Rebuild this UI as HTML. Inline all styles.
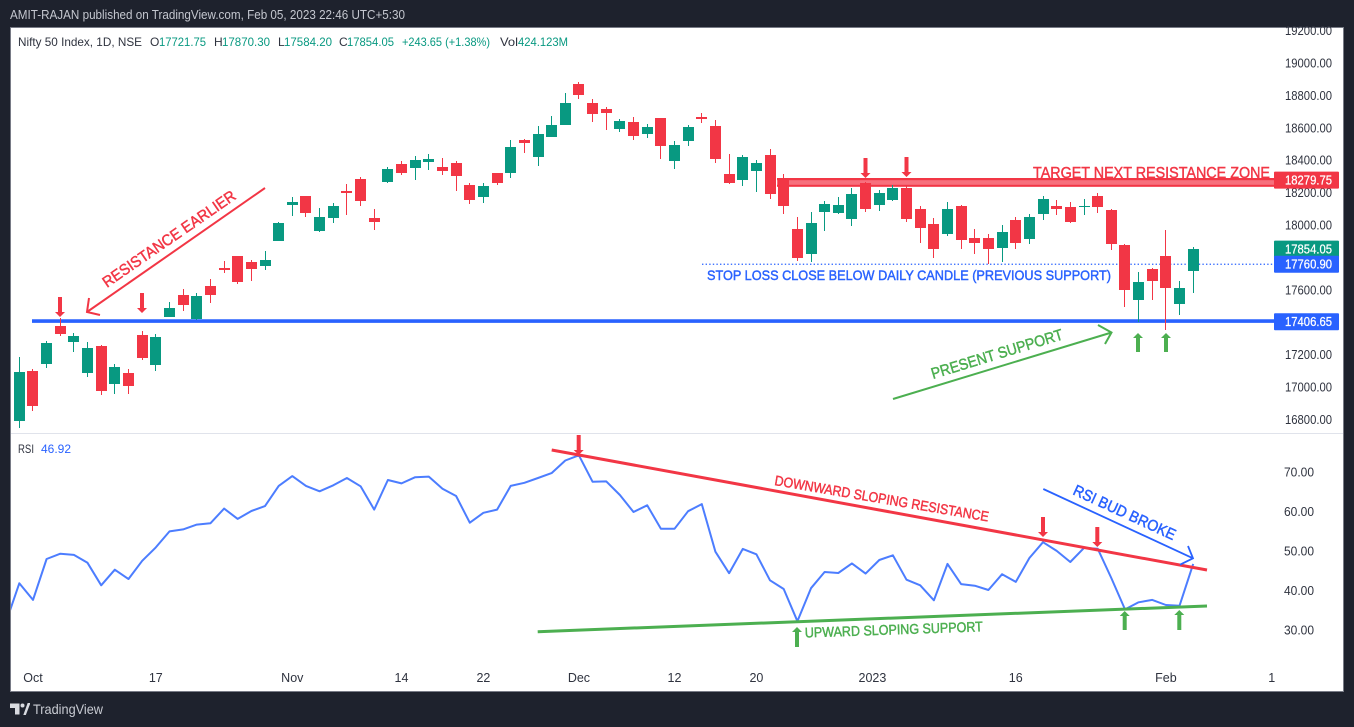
<!DOCTYPE html>
<html lang="en">
<head>
<meta charset="utf-8">
<title>Nifty 50 Index chart</title>
<style>
html,body{margin:0;padding:0;background:#1e222d;width:1354px;height:727px;overflow:hidden}
svg{display:block;font-family:"Liberation Sans",sans-serif}
text{white-space:pre}
.axis{font-size:12.5px;fill:#2f333f}
.note{font-size:15.5px;stroke-width:.45}
</style>
</head>
<body>
<svg id="root" width="1354" height="727" viewBox="0 0 1354 727">
  <defs><clipPath id="plot-clip"><rect x="11" y="28" width="1332" height="405"/></clipPath>
  <clipPath id="rsi-clip"><rect x="11" y="434" width="1332" height="230"/></clipPath></defs>
  <text x="10" y="19" font-size="12.5" fill="#c4c7cf" textLength="395" lengthAdjust="spacingAndGlyphs">AMIT-RAJAN published on TradingView.com, Feb 05, 2023 22:46 UTC+5:30</text>
  <rect x="10.5" y="27.5" width="1333" height="664" fill="#ffffff" stroke="#787b86" stroke-width="1"/>
  <line x1="11" x2="1343" y1="433.5" y2="433.5" stroke="#e0e3eb" stroke-width="1"/>

  <g id="price-axis"></g>
  <g id="rsi-axis"></g>
  <g id="time-axis"></g>

  <g>
    <rect id="zone-rect" x="777" y="178" width="497" height="9" fill="#f7707d"/>
    <rect x="777" y="178" width="497" height="2.2" fill="#f23645"/>
    <rect x="777" y="184.8" width="497" height="1.6" fill="#f23645"/>
  </g>
  <line id="support-line" x1="32" x2="1274" stroke="#2962ff" stroke-width="3.6"/>
  <line id="stoploss-line" x1="702" x2="1274" stroke="#2962ff" stroke-width="1.3" stroke-dasharray="1.4 2.2"/>

  <g id="candles" clip-path="url(#plot-clip)"></g>

  <g>
    <path d="M265 188L87 312M89 298L87 312L100 315" fill="none" stroke="#f23645" stroke-width="2"/>
    <text class="note" transform="translate(107,288) rotate(-34.6)" fill="#f23645" stroke="#f23645" textLength="158" lengthAdjust="spacingAndGlyphs">RESISTANCE EARLIER</text>
    <path d="M893 399L1111.5 332.5M1098 325L1111.5 332.5L1105 344" fill="none" stroke="#4caf50" stroke-width="2"/>
    <text class="note" transform="translate(933,379) rotate(-17)" fill="#4caf50" stroke="#4caf50" textLength="137" lengthAdjust="spacingAndGlyphs">PRESENT SUPPORT</text>
    <text class="note" x="1033" y="178" style="font-size:16px" fill="#f23645" stroke="#f23645" textLength="237" lengthAdjust="spacingAndGlyphs">TARGET NEXT RESISTANCE ZONE</text>
    <text class="note" x="707" y="280" style="font-size:14px" fill="#2962ff" stroke="#2962ff" textLength="404" lengthAdjust="spacingAndGlyphs">STOP LOSS CLOSE BELOW DAILY CANDLE (PREVIOUS SUPPORT)</text>
    <path d="M58 297h4v15h3l-5 5l-5-5h3z" fill="#f23645"/>
    <path d="M140 293h4v15h3l-5 5l-5-5h3z" fill="#f23645"/>
    <path d="M863.5 158h4v15h3l-5 5l-5-5h3z" fill="#f23645"/>
    <path d="M904.5 157h4v15h3l-5 5l-5-5h3z" fill="#f23645"/>
    <path d="M1136 352h4v-14h3l-5-5l-5 5h3z" fill="#4caf50"/>
    <path d="M1164 352h4v-14h3l-5-5l-5 5h3z" fill="#4caf50"/>
  </g>

  <path id="rsi-line" clip-path="url(#rsi-clip)" fill="none" stroke="#4c7dff" stroke-width="2" stroke-linejoin="round"/>

  <g>
    <line x1="551.7" y1="450" x2="1207" y2="570" stroke="#f23645" stroke-width="3"/>
    <line x1="537.7" y1="631.7" x2="1207" y2="606" stroke="#4caf50" stroke-width="3"/>
    <text class="note" transform="translate(774,485) rotate(9.7)" style="font-size:14px" fill="#f23645" stroke="#f23645" textLength="217" lengthAdjust="spacingAndGlyphs">DOWNWARD SLOPING RESISTANCE</text>
    <text class="note" transform="translate(805,637.5) rotate(-2)" style="font-size:14px" fill="#4caf50" stroke="#4caf50" textLength="178" lengthAdjust="spacingAndGlyphs">UPWARD SLOPING SUPPORT</text>
    <path d="M1043.3 489L1193 558.3M1188 546L1193 558.3L1180 564.7" fill="none" stroke="#2962ff" stroke-width="1.8"/>
    <text class="note" transform="translate(1072,494) rotate(24.7)" fill="#2962ff" stroke="#2962ff" textLength="111" lengthAdjust="spacingAndGlyphs">RSI BUD BROKE</text>
    <path d="M576.7 435h4v15h3l-5 5l-5-5h3z" fill="#f23645"/>
    <path d="M1041 517h4v15h3l-5 5l-5-5h3z" fill="#f23645"/>
    <path d="M1095.3 527h4v15h3l-5 5l-5-5h3z" fill="#f23645"/>
    <path d="M795 647h4v-15h3l-5-5l-5 5h3z" fill="#4caf50"/>
    <path d="M1122.7 630h4v-14h3l-5-5l-5 5h3z" fill="#4caf50"/>
    <path d="M1177.3 630h4v-15h3l-5-5l-5 5h3z" fill="#4caf50"/>
  </g>

  <g id="price-tags"></g>

  <g font-size="12" fill="#2f333f">
    <text x="18" y="46" textLength="124" lengthAdjust="spacingAndGlyphs">Nifty 50 Index, 1D, NSE</text>
    <text x="150" y="46">O</text>
    <text x="159" y="46" fill="#089981" textLength="47" lengthAdjust="spacingAndGlyphs">17721.75</text>
    <text x="214" y="46">H</text>
    <text x="222" y="46" fill="#089981" textLength="48" lengthAdjust="spacingAndGlyphs">17870.30</text>
    <text x="278" y="46">L</text>
    <text x="284" y="46" fill="#089981" textLength="48" lengthAdjust="spacingAndGlyphs">17584.20</text>
    <text x="339" y="46">C</text>
    <text x="347" y="46" fill="#089981" textLength="47" lengthAdjust="spacingAndGlyphs">17854.05</text>
    <text x="402" y="46" fill="#089981" textLength="88" lengthAdjust="spacingAndGlyphs">+243.65 (+1.38%)</text>
    <text x="500" y="46" textLength="18" lengthAdjust="spacingAndGlyphs">Vol</text>
    <text x="518" y="46" fill="#089981" textLength="50" lengthAdjust="spacingAndGlyphs">424.123M</text>
  </g>
  <g font-size="12">
    <text x="18" y="453" fill="#2f333f" textLength="16" lengthAdjust="spacingAndGlyphs">RSI</text>
    <text x="41" y="453" fill="#2962ff" textLength="30" lengthAdjust="spacingAndGlyphs">46.92</text>
  </g>

  <g>
    <path d="M10 703.5h9.5v11h-4.5v-6.5h-5z" fill="#d8dae0"/>
    <circle cx="22.5" cy="705.5" r="2" fill="#d8dae0"/>
    <path d="M24 714.5L28 703.5H29.5V704L25.5 714.5z" fill="#d8dae0" stroke="#d8dae0" stroke-width="1"/>
    <text x="33" y="714" font-size="14" fill="#c9ccd3" textLength="70" lengthAdjust="spacingAndGlyphs">TradingView</text>
  </g>
</svg>
<script>
// Daily candle data, first entry is the partially visible bar left of the frame
const opens = [16998,
16796,17102,17146,17380,17281,17090,17257,17022,17090,17325,
17139,17436,17571,17421,17627,17738,17812,17775,17750,17904,
18127,18182,17966,18046,18213,18287,18046,18268,18379,18355,
18392,18361,18386,18250,18176,18324,18324,18528,18423,18546,
18620,18873,18756,18719,18595,18639,18565,18663,18398,18521,
18669,18614,18318,18281,18336,18435,18293,17979,17824,18083,
18077,18040,18262,18127,18157,18231,18102,18009,17948,18120,
17923,17923,17861,18034,17917,18071,18120,18114,18114,18182,
18096,17880,17541,17732,17812,17516,17721.75];
const highs = [17010,
17189,17113,17288,17427,17337,17281,17263,17146,17115,17349,
17331,17528,17608,17584,17670,17781,17812,17787,17843,18022,
18176,18182,18108,18139,18256,18299,18102,18361,18398,18429,
18441,18416,18398,18262,18262,18324,18528,18534,18614,18676,
18817,18885,18780,18731,18657,18669,18626,18663,18521,18620,
18694,18651,18441,18435,18404,18472,18318,18053,18083,18151,
18176,18231,18268,18219,18250,18244,18120,18046,18145,18127,
17979,17948,18003,18053,18071,18182,18157,18145,18164,18201,
18102,17886,17713,17738,17972,17658,17870.30];
const lows = [16790,
16753,16856,17121,17318,17220,17065,16955,16961,16961,17170,
17102,17436,17473,17420,17522,17707,17639,17658,17726,17904,
18059,18053,17960,18016,18065,18120,17972,18262,18312,18281,
18342,18312,18213,18133,18139,18250,18293,18447,18367,18546,
18620,18780,18639,18589,18577,18528,18540,18410,18349,18491,
18632,18386,18256,18244,18207,18164,18071,17781,17775,17966,
18071,17997,18083,18090,18151,18022,17892,17800,17935,17855,
17824,17763,17775,17855,17886,18034,18065,18016,18065,18077,
17849,17497,17405,17541,17355,17448,17584.20];
const closes = [16813,
17096,16888,17275,17331,17318,17244,16979,17127,17010,17183,
17312,17491,17510,17565,17571,17726,17652,17732,17787,18016,
18145,18077,18053,18120,18201,18151,18022,18349,18324,18404,
18410,18336,18305,18157,18244,18262,18484,18509,18565,18620,
18756,18805,18688,18694,18645,18552,18608,18491,18497,18608,
18657,18410,18262,18423,18386,18194,18120,17800,18016,18133,
18127,18194,18102,18201,18231,18040,17985,17855,18102,17911,
17892,17855,17960,17892,18053,18164,18102,18022,18120,18114,
17886,17602,17652,17658,17615,17615,17854.05];
const rsiValues = [31.95,
42.0,37.8,48.15,49.5,49.2,47.2,41.5,45.45,43.1,47.7,
51.1,55.15,55.65,56.85,57.2,60.9,58.3,60.3,61.55,66.65,
69.15,66.65,65.3,66.8,68.65,66.55,60.65,68.15,67.3,68.85,
69.0,65.95,64.1,57.35,59.85,60.65,66.65,67.45,68.65,69.9,
73.1,74.4,67.7,67.8,64.35,60.05,61.75,55.8,55.8,60.25,
62.05,50.0,44.55,50.7,49.35,42.75,40.55,32.4,40.75,44.85,
44.6,47.05,44.45,47.9,49.1,42.9,41.5,37.7,46.9,41.8,
41.4,40.3,44.3,42.35,48.4,52.4,50.2,47.4,50.95,50.75,
43.35,35.4,37.2,37.8,36.5,36.3,46.92];
const priceTicks = [19200,19000,18800,18600,18400,18200,18000,17800,17600,17400,17200,17000,16800];
const rsiTicks = [70,60,50,40,30];
const timeLabels = ["Oct","17","Nov","14","22","Dec","12","20","2023","16","Feb","1"];
const timeLabelBars = [1,10,20,28,34,41,48,54,62.5,73,84,91.75];
const supportLevel = 17406.65;
const stopLossLevel = 17760.90;
const zoneLevel = 18279.75;
const lastClose = 17854.05;

const NS = 'http://www.w3.org/2000/svg';
function xBar(i){ return 19.3 + 13.65 * i; }
function yPrice(p){ return 31 + (19200 - p) * 0.1621; }
function yRsi(v){ return 472.7 + (70 - v) * 3.95; }
function mk(tag, parent){ const el = document.createElementNS(NS, tag); parent.appendChild(el); return el; }

const candleGroup = document.getElementById('candles');
opens.forEach(function(o, k){
  const i = k - 1;
  const xc = Math.floor(xBar(i)) + 0.5;
  const up = closes[k] >= o;
  const color = up ? '#089981' : '#f23645';
  const top = Math.round(yPrice(Math.max(o, closes[k])));
  const bottom = Math.round(yPrice(Math.min(o, closes[k])));
  const g = mk('g', candleGroup);
  
  
  const wick = mk('rect', g);
  
  
  wick.setAttribute('x', xc - 0.5);
  wick.setAttribute('width', 1);
  wick.setAttribute('y', Math.round(yPrice(highs[k])));
  wick.setAttribute('height', Math.max(1, Math.round(yPrice(lows[k])) - Math.round(yPrice(highs[k]))));
  wick.setAttribute('fill', color);
  const body = mk('rect', g);
  
  
  body.setAttribute('x', xc - 5.5);
  body.setAttribute('width', 11);
  body.setAttribute('y', top);
  body.setAttribute('height', Math.max(1, bottom - top));
  body.setAttribute('fill', color);
});

document.getElementById('rsi-line').setAttribute('d', rsiValues.map(function(v, k){
  return (k ? 'L' : 'M') + xBar(k - 1).toFixed(1) + ' ' + yRsi(v).toFixed(1);
}).join(''));

const priceAxis = document.getElementById('price-axis');
priceTicks.forEach(function(p){
  const t = mk('text', priceAxis);
  
  
  t.setAttribute('class', 'axis');
  t.setAttribute('x', 1285);
  t.setAttribute('y', yPrice(p) + 4);
  t.setAttribute('textLength', 47);
  t.setAttribute('lengthAdjust', 'spacingAndGlyphs');
  t.textContent = p.toFixed(2);
});
const rsiAxis = document.getElementById('rsi-axis');
rsiTicks.forEach(function(v){
  const t = mk('text', rsiAxis);
  
  
  t.setAttribute('class', 'axis');
  t.setAttribute('x', 1284);
  t.setAttribute('y', yRsi(v) + 4);
  t.setAttribute('textLength', 30);
  t.setAttribute('lengthAdjust', 'spacingAndGlyphs');
  t.textContent = v.toFixed(2);
});
const timeAxis = document.getElementById('time-axis');
timeLabels.forEach(function(label, k){
  const t = mk('text', timeAxis);
  
  
  t.setAttribute('class', 'axis');
  t.setAttribute('x', xBar(timeLabelBars[k]));
  t.setAttribute('y', 682);
  t.setAttribute('text-anchor', 'middle');
  t.textContent = label;
});

document.getElementById('support-line').setAttribute('y1', yPrice(supportLevel) - 0.6);
document.getElementById('support-line').setAttribute('y2', yPrice(supportLevel) - 0.6);
document.getElementById('stoploss-line').setAttribute('y1', yPrice(stopLossLevel));
document.getElementById('stoploss-line').setAttribute('y2', yPrice(stopLossLevel));

const tagGroup = document.getElementById('price-tags');
[[zoneLevel, '#f23645'], [lastClose, '#089981'], [stopLossLevel, '#2962ff'], [supportLevel, '#2962ff']].forEach(function(tag){
  const cy = yPrice(tag[0]);
  const r = mk('rect', tagGroup);
  
  
  r.setAttribute('x', 1274);
  r.setAttribute('y', cy - 8.5);
  r.setAttribute('width', 65);
  r.setAttribute('height', 17);
  r.setAttribute('rx', 1);
  r.setAttribute('fill', tag[1]);
  const t = mk('text', tagGroup);
  
  
  t.setAttribute('x', 1285);
  t.setAttribute('y', cy + 4.3);
  t.setAttribute('font-size', 12.5);
  t.setAttribute('fill', '#ffffff');
  t.setAttribute('stroke', '#ffffff');
  t.setAttribute('stroke-width', 0.25);
  t.setAttribute('textLength', 47);
  t.setAttribute('lengthAdjust', 'spacingAndGlyphs');
  t.textContent = tag[0].toFixed(2);
});
</script>
</body>
</html>
